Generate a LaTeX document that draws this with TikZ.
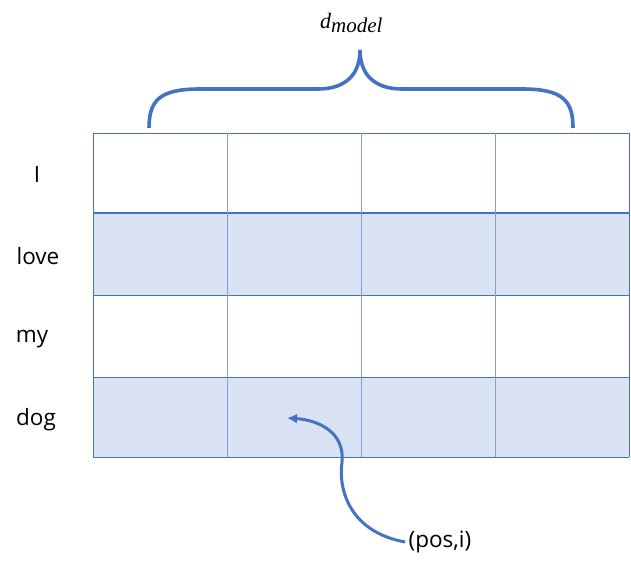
\documentclass[tikz,border=0pt]{standalone}
\usepackage{fontspec}
\setmainfont{Open Sans}
\newfontfamily\dimfont{Liberation Serif}
\usetikzlibrary{positioning,arrows.meta,calc}
\definecolor{gridline}{HTML}{4472C4}
\definecolor{gridlight}{HTML}{7F9FD8}
\definecolor{rowfill}{HTML}{DAE3F3}

\begin{document}
\begin{tikzpicture}[
  x=1pt, y=-1pt,
  every node/.style={font=\fontsize{22.5}{26}\selectfont},
  word/.style={anchor=center, inner sep=0pt},
  hline/.style={draw=gridline, line width=0.9pt},
  vline/.style={draw=gridlight, line width=1pt},
  brace/.style={draw=gridline, line width=3.6pt},
  arr/.style={-{Latex[length=10pt,width=10pt]}, draw=gridline, line width=3pt}
]
\useasboundingbox (0,0) rectangle (631,567);

% shaded rows
\fill[rowfill] (93,213) rectangle (629,295);
\fill[rowfill] (93,377) rectangle (629,457);

% grid
\foreach \y in {133,295,377,457}
  \draw[hline] (93,\y) -- (629,\y);
\draw[draw=gridline, line width=2.2pt] (93,213) -- (629,213);
\foreach \x in {227,361,495}
  \draw[vline] (\x,133) -- (\x,457);
\draw[hline] (93,133) -- (93,457);
\draw[hline] (629,133) -- (629,457);

% row words
\node[word] (wI) at (37,174) {I};
\node[word] (wlove) at (38,256) {love};
\node[word] (wmy) at (32,339) {my};
\node[word] (wdog) at (36,420) {dog};

% brace and dimension
\draw[brace] (149,128) .. controls (149,100) and (160,89) .. (200,89)
  -- (318,89) .. controls (345,89) and (360,75) .. (360,50)
  .. controls (360,75) and (375,89) .. (402,89)
  -- (522,89) .. controls (562,89) and (573,100) .. (573,128);
\node[inner sep=0pt, anchor=base west, font=\dimfont\itshape] (dmodel) at (320,28.5)
  {{\fontsize{22}{26}\selectfont d}\raisebox{-4pt}{\fontsize{21}{24}\selectfont model}};

% position label
\node (posi) at (440,542) {(pos,i)};
\coordinate (target) at (287,418);
\draw[arr] (posi.west) .. controls (350,532) and (338,490) .. (342,462)
  .. controls (345,432) and (318,420) .. (target);
\end{tikzpicture}
\end{document}
